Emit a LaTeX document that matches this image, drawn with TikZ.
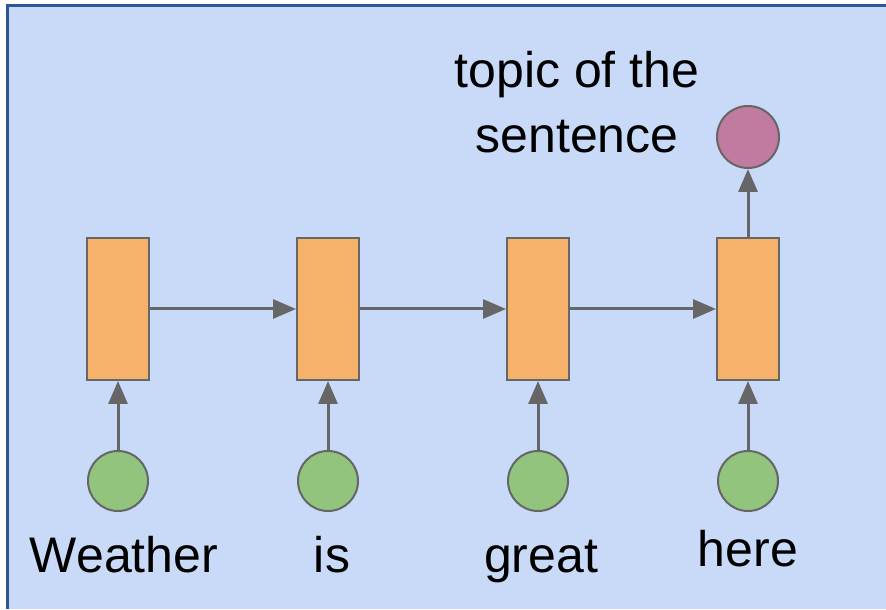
\documentclass[tikz,border=0pt]{standalone}
\usepackage{fontspec}
\setmainfont{Liberation Sans}
\usetikzlibrary{positioning,arrows.meta}

\definecolor{bgblue}{HTML}{C9DAF8}
\definecolor{frameblue}{HTML}{2B5797}
\definecolor{cellorange}{HTML}{F6B26B}
\definecolor{ingreen}{HTML}{93C47D}
\definecolor{outpink}{HTML}{C27BA0}
\definecolor{wire}{HTML}{666666}

\tikzset{
  cell/.style={draw=wire, line width=1pt, fill=cellorange,
    minimum width=31pt, minimum height=71pt, inner sep=0pt},
  token/.style={circle, draw=wire, line width=1pt, fill=ingreen,
    minimum size=30pt, inner sep=0pt},
  link/.style={->, draw=wire, line width=1.5pt},
}

\begin{document}
\begin{tikzpicture}[x=0.5pt, y=0.5pt, node distance=105pt,
    >={Triangle[length=11.5pt, width=9.5pt]},
    font=\fontsize{25}{32.5}\selectfont]
        \useasboundingbox (0,0) rectangle (886,609);
        \fill [bgblue] (7.5,0) rectangle (886,603);
        \draw [frameblue, line width=1.5pt] (7.5,0) -- (7.5,603) -- (886,603);

        \node (h1) [cell] at (118,300) {};
        \node (h2) [cell, right of=h1] {};
        \node (h3) [cell, right of=h2] {};
        \node (h4) [cell, right of=h3] {};

        \node (x1) [token, below=34.5pt of h1] {};
        \node (x2) [token, below=34.5pt of h2] {};
        \node (x3) [token, below=34.5pt of h3] {};
        \node (x4) [token, below=34.5pt of h4] {};

        \node (y) [token, fill=outpink, minimum size=31pt, above=34pt of h4] {};

        \node (w1) [anchor=base] at ([xshift=3pt, yshift=-30pt]x1.south) {Weather};
        \node (w2) [anchor=base] at ([xshift=2pt, yshift=-30pt]x2.south) {is};
        \node (w3) [anchor=base] at ([xshift=1.5pt, yshift=-30pt]x3.south) {great};
        \node (w4) [anchor=base] at ([yshift=-27pt]x4.south) {here};

        % base is the last line here
        \node (topic) [anchor=base, align=center]
          at ([xshift=-85.5pt, yshift=-8pt]y.center) {topic of the\\sentence};

        \draw [link] (h1) -- (h2);
        \draw [link] (h2) -- (h3);
        \draw [link] (h3) -- (h4);

        \draw [link] (x1) -- (h1);
        \draw [link] (x2) -- (h2);
        \draw [link] (x3) -- (h3);
        \draw [link] (x4) -- (h4);

        \draw [link] (h4) -- (y);
      \end{tikzpicture}
\end{document}
